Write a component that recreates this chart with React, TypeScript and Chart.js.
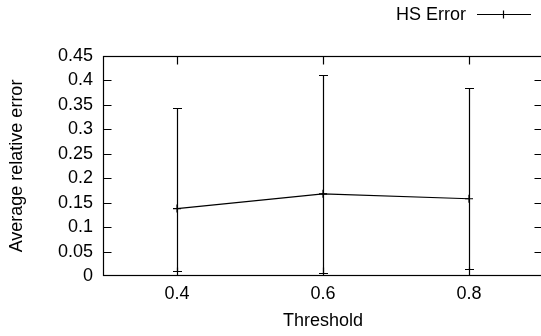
import React, { useEffect, useRef } from "react";
import { Chart, registerables } from "chart.js";

Chart.register(...registerables);

// ---- data ----
const thresholds = [0.4, 0.6, 0.8];
const meanErrors = [0.138, 0.168, 0.158];
const lowerErrors = [0.010, 0.007, 0.014];
const upperErrors = [0.343, 0.411, 0.384];

const xTicks = [0.4, 0.6, 0.8];
const xTickLabels = ["0.4", "0.6", "0.8"];
const yTicks = [0, 0.05, 0.1, 0.15, 0.2, 0.25, 0.3, 0.35, 0.4, 0.45];
const yTickLabels = ["0", "0.05", "0.1", "0.15", "0.2", "0.25", "0.3", "0.35", "0.4", "0.45"];

const seriesLabel = "HS Error";
const xTitle = "Threshold";
const yTitle = "Average relative error";

const FONT = '"Liberation Sans", Arial, Helvetica, sans-serif';
const FONT_SIZE = 18;

const errorBarPlugin = {
  id: "errorBars",
  afterDatasetsDraw(chart: any) {
    const { ctx, scales } = chart;
    const xs = scales.x;
    const ys = scales.y;
    ctx.save();
    ctx.strokeStyle = "#000";
    ctx.lineWidth = 1.2;
    ctx.beginPath();
    thresholds.forEach((t, i) => {
      const x = Math.round(xs.getPixelForValue(t)) + 0.5;
      const yU = Math.round(ys.getPixelForValue(upperErrors[i])) + 0.5;
      const yL = Math.round(ys.getPixelForValue(lowerErrors[i])) + 0.5;
      ctx.moveTo(x, yU);
      ctx.lineTo(x, yL);
      ctx.moveTo(x - 4.5, yU);
      ctx.lineTo(x + 4.5, yU);
      ctx.moveTo(x - 4.5, yL);
      ctx.lineTo(x + 4.5, yL);
    });
    ctx.stroke();
    ctx.restore();
  },
};

const framePlugin = {
  id: "frame",
  afterDraw(chart: any) {
    const { ctx, chartArea: a, scales } = chart;
    const xs = scales.x;
    const ys = scales.y;
    const T = 8;
    ctx.save();
    ctx.strokeStyle = "#000";
    ctx.lineWidth = 1.2;
    ctx.strokeRect(a.left - 0.5, a.top + 0.5, a.right - a.left + 1, a.bottom - a.top - 1);
    ctx.beginPath();
    yTicks.forEach((v) => {
      const y = Math.min(Math.round(ys.getPixelForValue(v)) + 0.5, a.bottom - 0.5);
      ctx.moveTo(a.left - 0.5, y);
      ctx.lineTo(a.left - 0.5 + T, y);
      ctx.moveTo(a.right + 0.5, y);
      ctx.lineTo(a.right + 0.5 - T, y);
    });
    xTicks.forEach((v) => {
      const x = Math.round(xs.getPixelForValue(v)) + 0.5;
      ctx.moveTo(x, a.bottom - 0.5);
      ctx.lineTo(x, a.bottom - 0.5 - T);
      ctx.moveTo(x, a.top + 0.5);
      ctx.lineTo(x, a.top + 0.5 + T);
    });
    ctx.stroke();

    // legend (gnuplot style: text, then line sample with point)
    ctx.fillStyle = "#000";
    ctx.font = `${FONT_SIZE}px ${FONT}`;
    ctx.textAlign = "right";
    ctx.textBaseline = "middle";
    ctx.fillText(seriesLabel, 466, 15);
    ctx.beginPath();
    ctx.moveTo(477, 14.5);
    ctx.lineTo(531, 14.5);
    ctx.moveTo(503.5, 10.5);
    ctx.lineTo(503.5, 18.5);
    ctx.moveTo(499.5, 14.5);
    ctx.lineTo(507.5, 14.5);
    ctx.stroke();
    ctx.restore();
  },
};

export default function App() {
  const canvasRef = useRef<HTMLCanvasElement | null>(null);

  useEffect(() => {
    if (!canvasRef.current) return;
    const chart = new Chart(canvasRef.current, {
      type: "scatter",
      data: {
        datasets: [
          {
            label: seriesLabel,
            data: thresholds.map((t, i) => ({ x: t, y: meanErrors[i] })),
            showLine: true,
            borderColor: "#000",
            backgroundColor: "#000",
            borderWidth: 1.2,
            pointStyle: "cross",
            pointRadius: 4,
            pointBorderWidth: 1.2,
            pointBorderColor: "#000",
          },
        ],
      },
      options: {
        animation: false,
        responsive: false,
        maintainAspectRatio: false,
        devicePixelRatio: 1,
        layout: { autoPadding: false, padding: { top: 56, left: 0, right: 0, bottom: 0 } },
        plugins: {
          legend: { display: false },
          tooltip: { enabled: false },
        },
        scales: {
          x: {
            type: "linear",
            min: 0.3,
            max: 0.9,
            grid: { display: false, drawTicks: false },
            border: { display: false },
            afterBuildTicks: (scale: any) => {
              scale.ticks = xTicks.map((v) => ({ value: v }));
            },
            afterFit: (scale: any) => {
              scale.height = 60;
              scale.paddingLeft = 0;
              scale.paddingRight = 0;
            },
            ticks: {
              padding: 7,
              autoSkip: false,
              maxRotation: 0,
              color: "#000",
              font: { family: FONT, size: FONT_SIZE },
              callback: (_v: any, i: number) => xTickLabels[i],
            },
            title: {
              display: true,
              text: xTitle,
              color: "#000",
              font: { family: FONT, size: FONT_SIZE },
              padding: { top: 0, bottom: 4 },
            },
          },
          y: {
            type: "linear",
            min: 0,
            max: 0.45,
            grid: { display: false, drawTicks: false },
            border: { display: false },
            afterBuildTicks: (scale: any) => {
              scale.ticks = yTicks.map((v) => ({ value: v }));
            },
            afterFit: (scale: any) => {
              scale.width = 104;
            },
            ticks: {
              padding: 11,
              autoSkip: false,
              color: "#000",
              font: { family: FONT, size: FONT_SIZE },
              callback: (_v: any, i: number) => yTickLabels[i],
            },
            title: {
              display: true,
              text: yTitle,
              color: "#000",
              font: { family: FONT, size: FONT_SIZE },
              padding: { top: 6, bottom: 0 },
            },
          },
        },
      },
      plugins: [errorBarPlugin, framePlugin],
    });
    return () => chart.destroy();
  }, []);

  return (
    <div
      style={{
        position: "fixed",
        left: 0,
        top: 0,
        width: 541,
        height: 336,
        overflow: "hidden",
        background: "#fff",
      }}
    >
      <canvas ref={canvasRef} width={542} height={336} style={{ display: "block", width: 542, height: 336 }} />
    </div>
  );
}
